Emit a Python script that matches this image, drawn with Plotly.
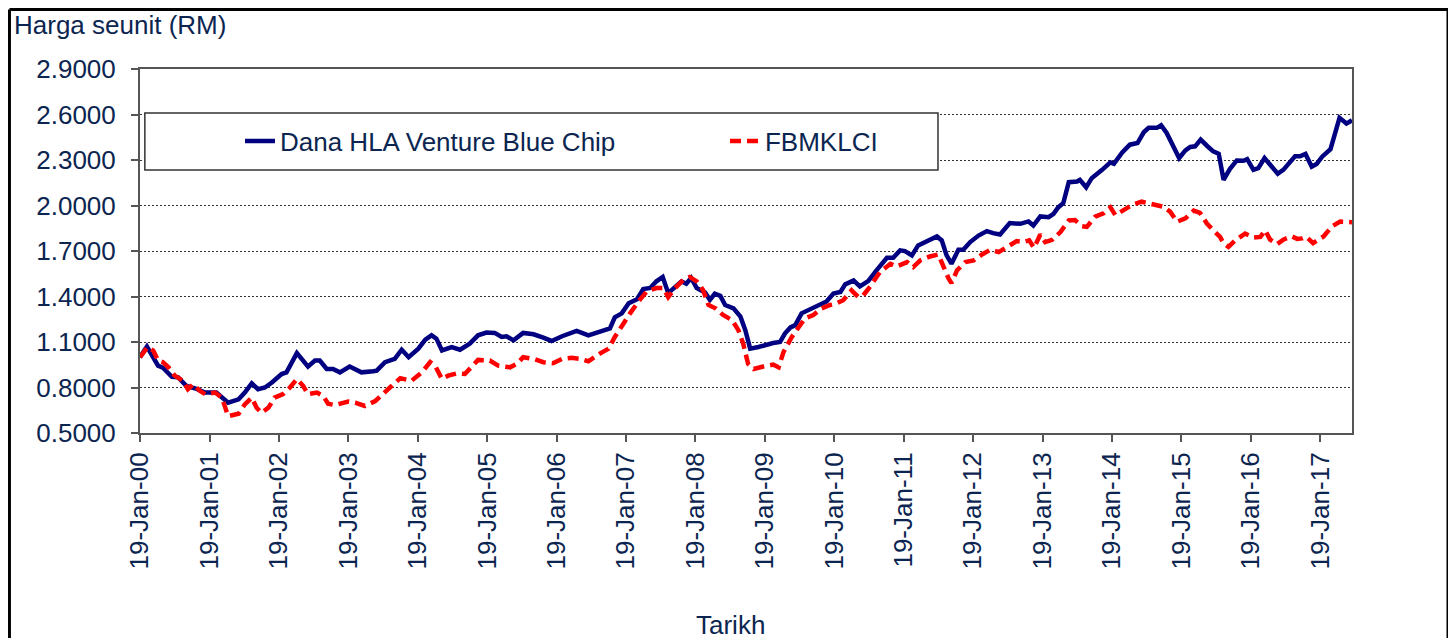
import pandas as pd
import plotly.graph_objects as go

# Values (decimal year, unit price in RM)
fund_yr = [
    2000.05, 2000.15, 2000.31, 2000.38, 2000.51, 2000.60, 2000.72, 2000.84, 2000.99, 2001.15,
    2001.32, 2001.47, 2001.56, 2001.66, 2001.75, 2001.85, 2001.95, 2002.09, 2002.16, 2002.31,
    2002.47, 2002.57, 2002.64, 2002.74, 2002.83, 2002.93, 2003.07, 2003.17, 2003.24, 2003.41,
    2003.46, 2003.58, 2003.72, 2003.82, 2003.92, 2004.06, 2004.16, 2004.25, 2004.32, 2004.40,
    2004.54, 2004.66, 2004.80, 2004.92, 2005.04, 2005.16, 2005.26, 2005.33, 2005.43, 2005.57,
    2005.72, 2005.86, 2005.98, 2006.13, 2006.25, 2006.34, 2006.51, 2006.68, 2006.75, 2006.82,
    2006.89, 2006.99, 2007.09, 2007.21, 2007.30, 2007.40, 2007.49, 2007.58, 2007.66, 2007.76,
    2007.85, 2007.92, 2007.99, 2008.07, 2008.19, 2008.26, 2008.33, 2008.41, 2008.48, 2008.60,
    2008.70, 2008.77, 2008.84, 2008.96, 2009.08, 2009.17, 2009.27, 2009.34, 2009.42, 2009.49,
    2009.58, 2009.68, 2009.80, 2009.94, 2010.04, 2010.14, 2010.21, 2010.33, 2010.42, 2010.54,
    2010.66, 2010.81, 2010.90, 2011.00, 2011.07, 2011.17, 2011.26, 2011.38, 2011.53, 2011.60,
    2011.67, 2011.74, 2011.84, 2011.91, 2012.01, 2012.13, 2012.25, 2012.34, 2012.44, 2012.58,
    2012.73, 2012.85, 2012.92, 2013.02, 2013.14, 2013.21, 2013.28, 2013.35, 2013.43, 2013.55,
    2013.59, 2013.68, 2013.76, 2013.91, 2014.03, 2014.08, 2014.20, 2014.31, 2014.42, 2014.51,
    2014.58, 2014.70, 2014.76, 2014.84, 2014.94, 2015.02, 2015.11, 2015.18, 2015.25, 2015.33,
    2015.42, 2015.51, 2015.59, 2015.66, 2015.75, 2015.85, 2015.95, 2016.00, 2016.09, 2016.16,
    2016.25, 2016.36, 2016.44, 2016.52, 2016.62, 2016.69, 2016.76, 2016.84, 2016.93, 2017.00,
    2017.08, 2017.20, 2017.24, 2017.33, 2017.43, 2017.51,
]
fund_val = [
    1.000, 1.070, 0.944, 0.930, 0.870, 0.867, 0.810, 0.795, 0.767, 0.767,
    0.700, 0.722, 0.767, 0.827, 0.789, 0.800, 0.833, 0.889, 0.900, 1.027,
    0.938, 0.978, 0.978, 0.922, 0.922, 0.900, 0.938, 0.916, 0.900, 0.907,
    0.911, 0.967, 0.989, 1.049, 1.000, 1.056, 1.116, 1.144, 1.122, 1.044,
    1.067, 1.049, 1.089, 1.144, 1.162, 1.160, 1.133, 1.138, 1.111, 1.160,
    1.151, 1.129, 1.107, 1.138, 1.156, 1.173, 1.144, 1.171, 1.175, 1.190,
    1.262, 1.289, 1.356, 1.382, 1.449, 1.456, 1.500, 1.529, 1.422, 1.467,
    1.500, 1.484, 1.522, 1.456, 1.427, 1.378, 1.418, 1.404, 1.344, 1.322,
    1.267, 1.178, 1.056, 1.067, 1.084, 1.093, 1.100, 1.156, 1.196, 1.211,
    1.289, 1.311, 1.338, 1.367, 1.420, 1.430, 1.480, 1.506, 1.467, 1.502,
    1.572, 1.655, 1.655, 1.704, 1.699, 1.671, 1.737, 1.765, 1.796, 1.770,
    1.671, 1.616, 1.708, 1.708, 1.759, 1.802, 1.831, 1.818, 1.809, 1.884,
    1.879, 1.895, 1.868, 1.928, 1.923, 1.945, 1.989, 2.015, 2.154, 2.158,
    2.169, 2.120, 2.180, 2.235, 2.284, 2.275, 2.350, 2.401, 2.412, 2.483,
    2.512, 2.512, 2.529, 2.478, 2.379, 2.313, 2.363, 2.386, 2.390, 2.434,
    2.394, 2.357, 2.341, 2.169, 2.240, 2.297, 2.295, 2.306, 2.235, 2.246,
    2.313, 2.246, 2.209, 2.235, 2.284, 2.324, 2.324, 2.340, 2.256, 2.273,
    2.322, 2.371, 2.434, 2.578, 2.540, 2.562,
]

klci_yr = [
    2000.05, 2000.16, 2000.24, 2000.31, 2000.38, 2000.46, 2000.55, 2000.67, 2000.74, 2000.82,
    2000.91, 2000.99, 2001.13, 2001.23, 2001.32, 2001.47, 2001.56, 2001.66, 2001.73, 2001.80,
    2001.90, 2001.99, 2002.11, 2002.21, 2002.31, 2002.40, 2002.47, 2002.60, 2002.69, 2002.76,
    2002.86, 2002.96, 2003.05, 2003.15, 2003.29, 2003.44, 2003.51, 2003.65, 2003.80, 2003.96,
    2004.11, 2004.23, 2004.30, 2004.40, 2004.49, 2004.61, 2004.73, 2004.83, 2004.92, 2005.09,
    2005.21, 2005.38, 2005.48, 2005.57, 2005.72, 2005.86, 2006.00, 2006.13, 2006.27, 2006.39,
    2006.51, 2006.68, 2006.80, 2006.89, 2007.01, 2007.11, 2007.23, 2007.35, 2007.49, 2007.59,
    2007.66, 2007.76, 2007.88, 2007.97, 2008.07, 2008.16, 2008.24, 2008.34, 2008.45, 2008.58,
    2008.67, 2008.74, 2008.81, 2008.89, 2009.03, 2009.17, 2009.25, 2009.32, 2009.44, 2009.53,
    2009.63, 2009.75, 2009.87, 2009.99, 2010.06, 2010.18, 2010.30, 2010.40, 2010.47, 2010.57,
    2010.71, 2010.86, 2010.95, 2011.10, 2011.19, 2011.29, 2011.43, 2011.55, 2011.62, 2011.70,
    2011.74, 2011.82, 2011.94, 2012.06, 2012.18, 2012.30, 2012.42, 2012.54, 2012.68, 2012.78,
    2012.86, 2012.93, 2013.02, 2013.09, 2013.19, 2013.31, 2013.43, 2013.52, 2013.62, 2013.69,
    2013.81, 2013.93, 2014.03, 2014.10, 2014.22, 2014.34, 2014.48, 2014.60, 2014.70, 2014.79,
    2014.89, 2014.99, 2015.11, 2015.23, 2015.32, 2015.42, 2015.51, 2015.61, 2015.66, 2015.73,
    2015.83, 2015.97, 2016.09, 2016.19, 2016.26, 2016.33, 2016.43, 2016.52, 2016.64, 2016.72,
    2016.79, 2016.85, 2016.95, 2017.10, 2017.22, 2017.34, 2017.51,
]
klci_val = [
    1.000, 1.067, 1.044, 0.978, 0.967, 0.933, 0.878, 0.844, 0.789, 0.822,
    0.778, 0.756, 0.767, 0.733, 0.611, 0.627, 0.689, 0.733, 0.667, 0.633,
    0.667, 0.733, 0.756, 0.800, 0.856, 0.811, 0.756, 0.767, 0.744, 0.693,
    0.684, 0.700, 0.707, 0.700, 0.678, 0.711, 0.744, 0.800, 0.862, 0.844,
    0.900, 0.967, 0.944, 0.856, 0.878, 0.893, 0.889, 0.933, 0.982, 0.978,
    0.944, 0.933, 0.956, 1.000, 0.989, 0.967, 0.960, 0.989, 0.996, 0.989,
    0.973, 1.025, 1.056, 1.133, 1.222, 1.289, 1.367, 1.433, 1.456, 1.456,
    1.396, 1.456, 1.511, 1.529, 1.500, 1.444, 1.344, 1.322, 1.278, 1.244,
    1.178, 1.089, 0.956, 0.922, 0.938, 0.951, 0.933, 1.033, 1.133, 1.196,
    1.256, 1.278, 1.322, 1.344, 1.350, 1.375, 1.441, 1.396, 1.408, 1.467,
    1.561, 1.616, 1.598, 1.627, 1.594, 1.638, 1.664, 1.677, 1.594, 1.517,
    1.488, 1.572, 1.627, 1.638, 1.677, 1.708, 1.693, 1.726, 1.765, 1.759,
    1.770, 1.721, 1.809, 1.759, 1.774, 1.825, 1.901, 1.904, 1.864, 1.859,
    1.926, 1.948, 1.988, 1.937, 1.974, 2.003, 2.025, 2.014, 2.003, 1.992,
    1.959, 1.893, 1.915, 1.966, 1.952, 1.881, 1.837, 1.793, 1.749, 1.727,
    1.771, 1.815, 1.789, 1.793, 1.837, 1.775, 1.745, 1.775, 1.797, 1.780,
    1.783, 1.794, 1.752, 1.796, 1.862, 1.894, 1.890,
]

tick_years = list(range(2000, 2018))
y_ticks = [0.5, 0.8, 1.1, 1.4, 1.7, 2.0, 2.3, 2.6, 2.9]

NAVY_TXT = '#0b2550'
FONT = 'Arial, Liberation Sans, sans-serif'


def to_dates(yrs):
    # decimal year -> timestamp, anchored on 19-Jan-2000
    base = pd.Timestamp('2000-01-19')
    return [base + pd.Timedelta(days=(y - 2000.05) * 365.25) for y in yrs]


fig = go.Figure()
fig.add_trace(go.Scatter(
    x=to_dates(fund_yr), y=fund_val,
    mode='lines', name='Dana HLA Venture Blue Chip',
    line=dict(color='#000080', width=4.5),
))
fig.add_trace(go.Scatter(
    x=to_dates(klci_yr), y=klci_val,
    mode='lines', name='FBMKLCI',
    line=dict(color='#ff0000', width=4.5, dash='11px,6px'),
))

fig.update_xaxes(
    type='date',
    range=to_dates([2000.05, 2017.51]),
    tickvals=[pd.Timestamp(f'{y}-01-19') for y in tick_years],
    ticktext=[f'19-Jan-{y % 100:02d}' for y in tick_years],
    tickangle=-90,
    ticks='outside', ticklen=7, tickcolor='#555', tickwidth=1.5,
    tickfont=dict(size=26, color=NAVY_TXT, family=FONT),
    showgrid=False, showline=True, linecolor='#555', linewidth=2, mirror=True,
    zeroline=False,
)
fig.update_yaxes(
    range=[0.5, 2.9],
    tickvals=y_ticks, tickformat='.4f',
    ticks='outside', ticklen=7, tickcolor='#555', tickwidth=1.5,
    ticklabelstandoff=10,
    tickfont=dict(size=26, color=NAVY_TXT, family=FONT),
    showgrid=True, gridcolor='#333', gridwidth=1, griddash='2px,2px',
    showline=True, linecolor='#555', linewidth=2, mirror=True,
    zeroline=False,
)

# outer frame: left, top and right edges (bottom runs off the picture)
frame = dict(type='line', xref='paper', yref='paper',
             line=dict(color='black', width=3), layer='above')

# page body adds an 8px offset, so margins are trimmed by 8 on the left and top
fig.update_layout(
    width=1456, height=638,
    margin=dict(l=132, r=112, t=61, b=213, pad=0),
    paper_bgcolor='white', plot_bgcolor='white',
    font=dict(family=FONT, color=NAVY_TXT, size=26),
    showlegend=True,
    legend=dict(
        orientation='h', x=0.0825, xanchor='left', y=0.802, yanchor='middle',
        bgcolor='rgba(0,0,0,0)', borderwidth=0,
        font=dict(size=26, color=NAVY_TXT, family=FONT),
        entrywidth=440,
    ),
    shapes=[
        # legend frame
        dict(type='rect', xref='paper', yref='paper',
             x0=0.004, x1=0.6584, y0=0.7225, y1=0.879,
             line=dict(color='#333', width=1.5), fillcolor='white', layer='above'),
        dict(frame, x0=-0.1077, x1=-0.1077, y0=-0.62, y1=1.1635),
        dict(frame, x0=-0.1077, x1=1.0792, y0=1.1635, y1=1.1635),
        dict(frame, x0=1.0792, x1=1.0792, y0=-0.62, y1=1.1635),
    ],
    annotations=[
        dict(text='Harga seunit (RM)', xref='paper', yref='paper',
             x=-0.1056, y=1.121, xanchor='left', yanchor='middle',
             showarrow=False, font=dict(size=26, color=NAVY_TXT, family=FONT)),
        dict(text='Tarikh', xref='paper', yref='paper',
             x=0.4868, y=-0.527, xanchor='center', yanchor='middle',
             showarrow=False, font=dict(size=26, color=NAVY_TXT, family=FONT)),
    ],
)

fig.write_html('out.html')
